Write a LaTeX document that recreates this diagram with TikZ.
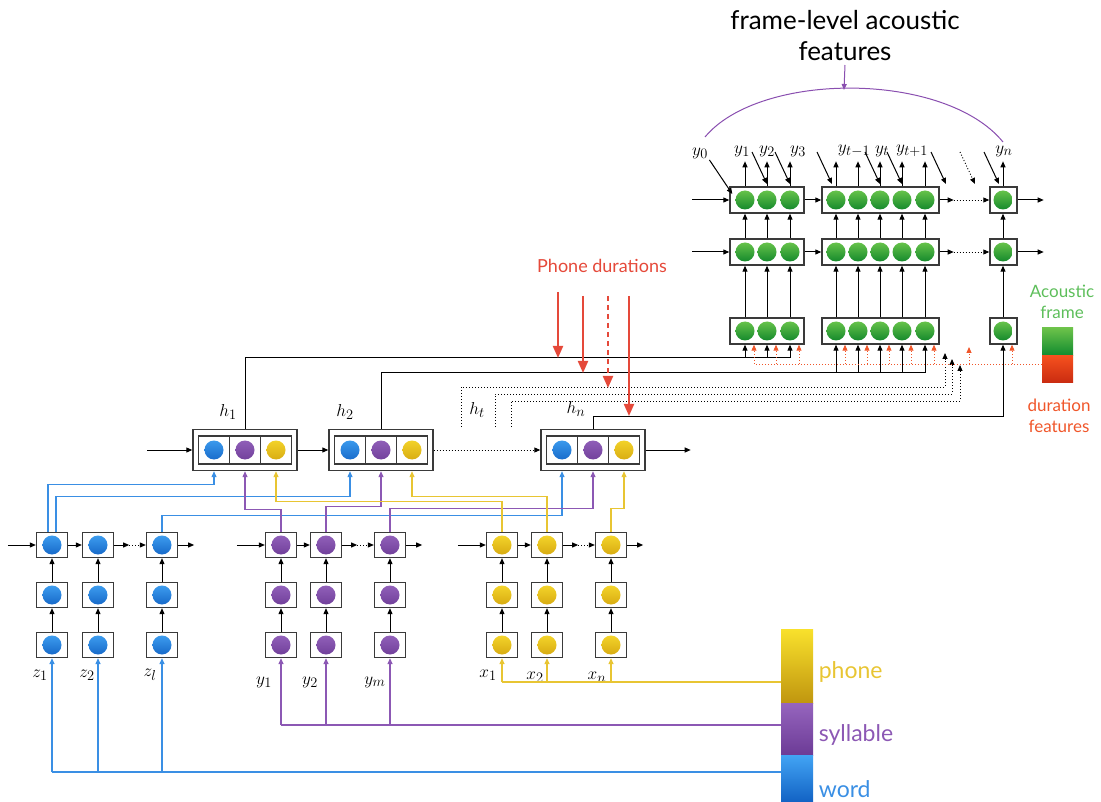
\documentclass[tikz,border=0pt]{standalone}
\usepackage{fontspec}
\setmainfont{Lato}
\usetikzlibrary{arrows.meta}
\definecolor{gtop}{HTML}{66C24A}
\definecolor{gbot}{HTML}{158A2C}
\definecolor{wtop}{HTML}{42A4F4}
\definecolor{wbot}{HTML}{1262C4}
\definecolor{syltop}{HTML}{9665BE}
\definecolor{sylbot}{HTML}{6C3B96}
\definecolor{ptop}{HTML}{F8DA2E}
\definecolor{pbot}{HTML}{D3A50E}
\definecolor{legptop}{HTML}{F9E12C}
\definecolor{legpbot}{HTML}{C0960F}
\definecolor{wordc}{HTML}{3A8FE4}
\definecolor{sylc}{HTML}{8C58B4}
\definecolor{phonec}{HTML}{E8C533}
\definecolor{durred}{HTML}{E5493A}
\definecolor{featred}{HTML}{F0562A}
\definecolor{acgreen}{HTML}{5DBE5A}
\definecolor{actop}{HTML}{6CC24A}
\definecolor{acbot}{HTML}{0E8A2E}
\definecolor{durtop}{HTML}{F5501E}
\definecolor{durbot}{HTML}{C92B10}
\definecolor{arcpurple}{HTML}{8A4FB0}
\definecolor{boxgray}{HTML}{3A3A3A}

\begin{document}
\begin{tikzpicture}[x=1pt, y=-1pt, >={Triangle[length=6pt,width=5pt]}, line width=1pt,
  frame/.style={draw=boxgray, line width=1.4pt, fill=white, minimum height=26pt, inner sep=0pt},
  gball/.style={circle, inner sep=0pt, minimum size=19pt, top color=gtop, bottom color=gbot},
  cell/.style={draw=boxgray, line width=1.3pt, fill=white, minimum width=31pt, minimum height=25pt, inner sep=0pt},
  ballin/.style 2 args={path picture={\shade[top color=#1, bottom color=#2] (path picture bounding box.center) circle (9.5pt);}},
  hbox/.style={draw=boxgray, line width=1.4pt, fill=white, minimum width=104pt, minimum height=41pt, inner sep=0pt},
  hcell/.style={cell, minimum height=28pt, line width=1.1pt},
  lab/.style={font=\fontsize{19}{19}\selectfont, inner sep=1pt},
  dotline/.style={line width=0.9pt, dash pattern=on 1pt off 2pt},
  bw/.style={draw=wordc, line width=1.2pt, ->},
  sw/.style={draw=sylc, line width=1.2pt, ->},
  pw/.style={draw=phonec, line width=1.2pt, ->},
  redarr/.style={draw=durred, line width=2pt, -{Triangle[length=12pt,width=10pt]}},
  reddot/.style={draw=featred, line width=0.9pt, dash pattern=on 1pt off 2pt},
  legbar/.style={inner sep=0pt, minimum width=32pt}]
\useasboundingbox (0,0) rectangle (1101,802);

\node[font=\fontsize{26}{31}\selectfont, align=center] (title) at (845,36) {frame-level acoustic\\features};
\draw[arcpurple] (705,137) .. controls (760,71) and (945,71) .. (1003,142);
\draw[arcpurple, ->] (title.south) -- (844,90);

\foreach \r/\yy in {T/200, M/252, B/331} {
  \node[frame, minimum width=74pt] (\r1) at (767,\yy) {};
  \node[frame, minimum width=117pt] (\r2) at (880.5,\yy) {};
  \node[frame, minimum width=27pt] (\r3) at (1003.5,\yy) {};
}
\foreach \x [count=\k] in {745,767,790,836,858,880,902,925,1003} {
  \node[gball] (t\k) at (\x,200) {};
  \node[gball] (m\k) at (\x,252) {};
  \node[gball] (b\k) at (\x,331) {};
  \draw[->] (t\k |- T1.north) -- ++(0,-25);
  \draw[->] (m\k |- M1.north) -- (t\k |- T1.south);
  \draw[->] (b\k |- B1.north) -- (m\k |- M1.south);
}
\foreach \r in {T,M} {
  \draw[->] ([xshift=-37pt]\r1.west) -- (\r1.west);
  \draw[->] (\r1.east) -- (\r2.west);
  \draw[->] (\r2.east) -- ([xshift=14pt]\r2.east);
  \draw[->, dotline] ([xshift=14pt]\r2.east) -- (\r3.west);
  \draw[->] (\r3.east) -- ([xshift=26pt]\r3.east);
}

\node[lab] (ly0) at (700,153) {$y_0$};
\node[lab] (ly1) at (742,151) {$y_1$};
\node[lab] (ly2) at (767,151) {$y_2$};
\node[lab] (ly3) at (798,151) {$y_3$};
\node[lab] (lyt1) at (854,151) {$y_{t-1}$};
\node[lab] (lyt) at (882,151) {$y_t$};
\node[lab] (lyt2) at (912,151) {$y_{t+1}$};
\node[lab] (lyn) at (1004,151) {$y_n$};
\draw[->] (ly0.south east) -- ([shift={(3,-6)}]T1.west);
\foreach \k/\dx in {2/0, 3/0, 4/-4, 6/0, 7/0, 8/21, 9/-4}
  \draw[->] ([shift={(\dx-15,-38)}]t\k.north) -- ([shift={(\dx,-6)}]t\k.north);
\draw[->, dotline] ([shift={(-43,-38)}]t9.north) -- ([shift={(-28,-6)}]t9.north);

\foreach \n/\cx in {1/245, 2/381, n/593} {
  \node[hbox] (H\n) at (\cx,450) {};
  \node[hcell, ballin={wtop}{wbot}] (h\n w) at (\cx-31,450) {};
  \node[hcell, ballin={syltop}{sylbot}] (h\n s) at (\cx,450) {};
  \node[hcell, ballin={ptop}{pbot}] (h\n p) at (\cx+31,450) {};
}
\node[lab] (lh1) at (228,412) {$h_1$};
\node[lab] (lh2) at (345,412) {$h_2$};
\node[lab] (ht) at (477,410) {$h_t$};
\node[lab] (lhn) at (576,409) {$h_n$};
\draw[->] ([xshift=-45pt]H1.west) -- (H1.west);
\draw[->] (H1.east) -- (H2.west);
\draw[->, dotline] (H2.east) -- (Hn.west);
\draw[->] (Hn.east) -- ([xshift=45pt]Hn.east);

\coordinate (l1) at (0,358);
\coordinate (l2) at (0,373);
\coordinate (l3) at (0,416);
\coordinate (ld) at (0,364);
\draw (H1.north) |- (b3 |- l1);
\foreach \k in {1,2,3} \draw[->] (b\k |- l1) -- (b\k |- B1.south);
\draw (H2.north) |- (b8 |- l2);
\foreach \k in {4,...,8} \draw[->] (b\k |- l2) -- (b\k |- B2.south);
\draw[->] (Hn.north) |- (b9 |- l3) -- (b9 |- B3.south);

\coordinate (hta) at (461,427);
\coordinate (htb) at (495,427);
\coordinate (htc) at (511,427);
\coordinate (tipa) at (945,353);
\coordinate (tipb) at (952,359);
\coordinate (tipc) at (960,365);
\draw[->, dotline] (hta) |- (tipa |- 0,387) -- (tipa);
\draw[->, dotline] (htb) |- (tipb |- 0,394) -- (tipb);
\draw[->, dotline] (htc) |- (tipc |- 0,401) -- (tipc);

\node[font=\fontsize{18}{18}\selectfont, text=durred] (pd) at (602,266) {Phone durations};
\coordinate (pa) at (558,292);
\coordinate (pb) at (583,296);
\coordinate (pc) at (608,296);
\coordinate (pe) at (629,296);
\draw[redarr] (pa) -- (pa |- l1);
\draw[redarr] (pb) -- (pb |- l2);
\draw[redarr, dash pattern=on 5pt off 4pt] (pc) -- (pc |- 0,388);
\draw[redarr] (pe) -- (pe |- l3);

\node[inner sep=0pt, minimum width=31pt, minimum height=28pt, top color=actop, bottom color=acbot] (acf) at (1057.5,342) {};
\node[inner sep=0pt, minimum width=31pt, minimum height=27pt, top color=durtop, bottom color=durbot] (durf) at (1057.5,369.5) {};
\node[text=acgreen, align=center, font=\fontsize{17}{21}\selectfont] (acl) at (1062,302) {Acoustic\\frame};
\node[text=featred, align=center, font=\fontsize{17}{21}\selectfont] (dul) at (1059,416) {duration\\features};
\draw[reddot] (durf.west |- ld) -- ([xshift=9pt]b1 |- ld);
\foreach \k in {1,...,9} \draw[reddot, ->, featred] ([xshift=9pt]b\k |- ld) -- ([xshift=9pt]b\k |- B1.south);
\draw[reddot, ->, featred] ([xshift=-34pt]b9 |- ld) -- ([xshift=-34pt]b9 |- 0,347);

\foreach \g/\ct/\cb/\xa/\xb/\xc in {z/wtop/wbot/52/98/162, s/syltop/sylbot/281/326/390, x/ptop/pbot/502/547/611} {
  \foreach \x [count=\k] in {\xa,\xb,\xc} {
    \node[cell, ballin={\ct}{\cb}] (\g t\k) at (\x,545) {};
    \node[cell, ballin={\ct}{\cb}] (\g m\k) at (\x,595) {};
    \node[cell, ballin={\ct}{\cb}] (\g b\k) at (\x,645) {};
    \draw[->] (\g b\k) -- (\g m\k);
    \draw[->] (\g m\k) -- (\g t\k);
  }
  \draw[->] ([xshift=-28pt]\g t1.west) -- (\g t1.west);
  \draw[->] (\g t1) -- (\g t2);
  \draw[->] (\g t2.east) -- ([xshift=15pt]\g t2.east);
  \draw[->, dotline] ([xshift=15pt]\g t2.east) -- (\g t3.west);
  \draw[->] (\g t3.east) -- ([xshift=16pt]\g t3.east);
}
\node[lab] (lz1) at (40,675) {$z_1$};
\node[lab] (lz2) at (87,675) {$z_2$};
\node[lab] (lz3) at (150,675) {$z_l$};
\node[lab] (ls1) at (264,682) {$y_1$};
\node[lab] (ls2) at (310,682) {$y_2$};
\node[lab] (ls3) at (375,682) {$y_m$};
\node[lab] (lx1) at (488,675) {$x_1$};
\node[lab] (lx2) at (535,677) {$x_2$};
\node[lab] (lx3) at (597,677) {$x_n$};

\node[legbar, minimum height=74pt, top color=legptop, bottom color=legpbot] (phonebar) at (797,666) {};
\node[legbar, minimum height=52pt, top color=syltop, bottom color=sylbot] (sylbar) at (797,729) {};
\node[legbar, minimum height=47pt, top color=wtop, bottom color=wbot] (wordbar) at (797,778.5) {};
\node[anchor=west, text=phonec, font=\fontsize{23}{23}\selectfont] (phl) at (815,672) {phone};
\node[anchor=west, text=sylc, font=\fontsize{23}{23}\selectfont] (syl) at (815,735) {syllable};
\node[anchor=west, text=wordc, font=\fontsize{23}{23}\selectfont] (wol) at (815,789) {word};

\coordinate (ww) at (0,772);
\coordinate (sy) at (0,725);
\coordinate (py) at (0,682);
\draw[wordc, line width=1.2pt] (wordbar.west |- ww) -- (zb1 |- ww);
\foreach \k in {1,2,3} \draw[bw] (zb\k |- ww) -- (zb\k.south);
\draw[sylc, line width=1.2pt] (sylbar.west |- sy) -- (sb1 |- sy);
\foreach \k in {1,2,3} \draw[sw] (sb\k |- sy) -- (sb\k.south);
\draw[phonec, line width=1.2pt] (phonebar.west |- py) -- (xb1 |- py);
\foreach \k in {1,2,3} \draw[pw] (xb\k |- py) -- (xb\k.south);

\draw[bw] ([xshift=-4pt]zt1.north) -- ++(0,-47) -| (h1w |- H1.south);
\draw[bw] ([xshift=4pt]zt1.north) -- ++(0,-35) -| (h2w |- H2.south);
\draw[bw] (zt3.north) -- ++(0,-16) -| (hnw |- Hn.south);
\draw[sw] (st1.north) -- ++(0,-22) -| (h1s |- H1.south);
\draw[sw] (st2.north) -- ++(0,-25) -| (h2s |- H2.south);
\draw[sw] (st3.north) -- ++(0,-23) -| (hns |- Hn.south);
\draw[pw] (xt1.north) -- ++(0,-30) -| (h1p |- H1.south);
\draw[pw] (xt2.north) -- ++(0,-35) -| (h2p |- H2.south);
\draw[pw] (xt3.north) -- ++(0,-23) -| (hnp |- Hn.south);
\end{tikzpicture}
\end{document}
